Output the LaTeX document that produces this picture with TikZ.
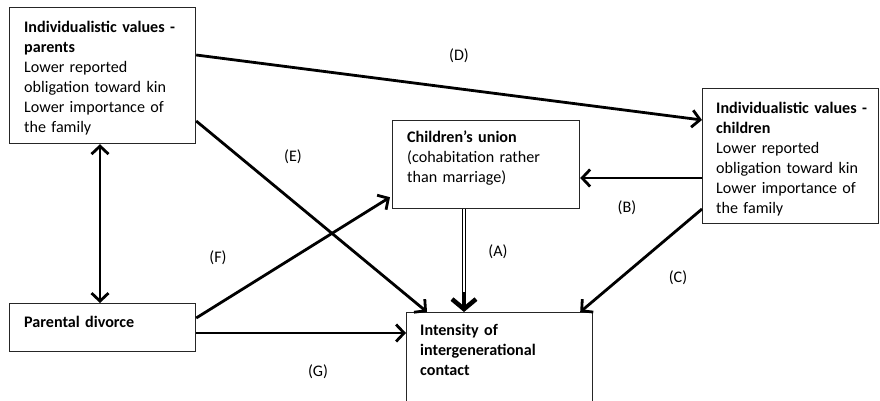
\documentclass[tikz,border=0pt]{standalone}
\usepackage{fontspec}
\setmainfont{Carlito}
\usetikzlibrary{arrows.meta,calc}
\begin{document}
\begin{tikzpicture}[x=1pt,y=-1pt,
  box/.style={draw=black!85, line width=1.2pt, rectangle, inner sep=0pt, anchor=north west},
  txt/.style={anchor=base west, inner sep=0pt, text width=240pt, align=left,
    font=\fontsize{16.1pt}{20pt}\selectfont},
  lbl/.style={inner sep=0pt, font=\fontsize{16.1pt}{20pt}\selectfont},
  arr/.style={line width=2.8pt, -{Straight Barb[length=8pt,width=17pt]}},
  darr/.style={line width=2.8pt, {Straight Barb[length=8pt,width=17pt]}-{Straight Barb[length=8pt,width=17pt]}},
]
\useasboundingbox (0,0) rectangle (880,400);
\clip (0,0) rectangle (880,400);
% boxes
\node[box, minimum width=186pt, minimum height=136pt] (P) at (9,7) {};
\node[box, minimum width=186pt, minimum height=48pt] (D) at (9,303) {};
\node[box, minimum width=187pt, minimum height=88pt] (U) at (392,120) {};
\node[box, minimum width=176pt, minimum height=135pt] (C) at (702,88) {};
\node[box, minimum width=186pt, minimum height=110pt] (I) at (406,312) {};
% texts
\node[txt] (Pt) at (24,32) {\textbf{Individualistic values -}\\\textbf{parents}\\Lower reported\\obligation toward kin\\Lower importance of\\the family};
\node[txt] (Dt) at (24,327) {\textbf{Parental divorce}};
\node[txt] (Ut) at (407,142) {\textbf{Children’s union}\\(cohabitation rather\\than marriage)};
\node[txt] (Ct) at (716,113) {\textbf{Individualistic values -}\\\textbf{children}\\Lower reported\\obligation toward kin\\Lower importance of\\the family};
\node[txt] (It) at (420,335) {\textbf{Intensity of}\\\textbf{intergenerational}\\\textbf{contact}};
% connectors
\draw[arr] ($(P.north east)+(0,48)$) -- ($(C.north west)+(0,32)$);
\draw[arr] ($(P.north east)+(0,114)$) -- ($(I.north west)+(21,0)$);
\draw[arr] ($(D.north east)+(0,15)$) -- ($(U.south west)+(-2,-12)$);
\draw[arr] ($(D.north east)+(0,30)$) -- ($(I.north west)+(0,21)$);
\draw[arr] ($(C.north west)+(0,90)$) -- ($(U.north east)+(0,58)$);
\draw[arr] ($(C.north west)+(0,121)$) -- ($(I.north east)+(-13,0)$);
\draw[darr] ($(P.south west)+(91,0)$) -- ($(D.north west)+(91,0)$);
% double arrow A
\coordinate (As) at ($(U.south west)+(72,0)$);
\coordinate (Ae) at ($(I.north west)+(58,0)$);
\draw[line width=1pt, double, double distance=2.2pt, shorten >=14pt] (As) -- (Ae);
\draw[line width=4.5pt, -{Straight Barb[length=10pt,width=24pt]}] ($(Ae)+(0,-20)$) -- (Ae);
% labels
\node[lbl] (lD) at (459,56) {(D)};
\node[lbl] (lE) at (293,157) {(E)};
\node[lbl] (lB) at (627,208) {(B)};
\node[lbl] (lA) at (498,252) {(A)};
\node[lbl] (lF) at (218,258) {(F)};
\node[lbl] (lC) at (678,278) {(C)};
\node[lbl] (lG) at (318,372) {(G)};
\end{tikzpicture}
\end{document}
